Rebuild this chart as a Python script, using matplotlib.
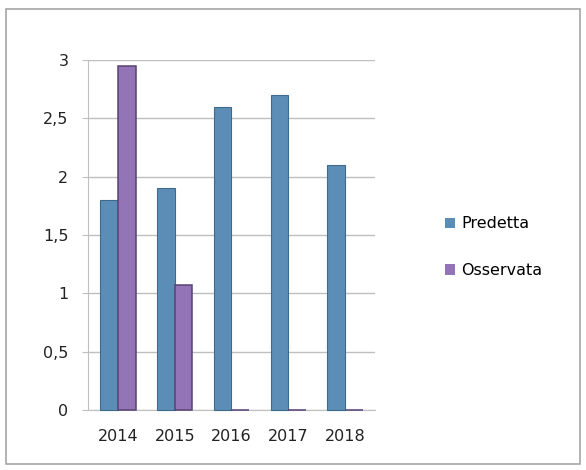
import numpy as np
import matplotlib.pyplot as plt
from matplotlib.patches import Rectangle

# dati
anni = ["2014", "2015", "2016", "2017", "2018"]
predetta = [1.8, 1.9, 2.6, 2.7, 2.1]
osservata = [2.95, 1.07, 0, 0, 0]
etichette_y = ["0", "0,5", "1", "1,5", "2", "2,5", "3"]

fig = plt.figure(figsize=(5.86, 4.70), dpi=100)
fig.patches.append(Rectangle((0.011, 0.012), 0.979, 0.968, transform=fig.transFigure,
                             fill=False, edgecolor="#a6a6a6", linewidth=1.2))

ax = fig.add_axes([0.150, 0.128, 0.490, 0.744])
x = np.arange(len(anni))
w = 0.31
ax.bar(x - w / 2, predetta, w, color="#5b8db6", edgecolor="#3f6a8c", linewidth=0.8,
       label="Predetta", zorder=3, clip_on=False)
ax.bar(x + w / 2, osservata, w, color="#9374b6", edgecolor="#574275", linewidth=1.1,
       label="Osservata", zorder=3, clip_on=False)

ax.set_xlim(-0.53, 4.53)
ax.set_ylim(0, 3)
ax.set_yticks(np.arange(0, 3.01, 0.5))
ax.set_yticklabels(etichette_y)
ax.set_xticks(x)
ax.set_xticklabels(anni)
ax.grid(axis="y", color="#bfbfbf", linewidth=1, zorder=0)
for s in ["top", "right"]:
    ax.spines[s].set_visible(False)
for s in ["left", "bottom"]:
    ax.spines[s].set_color("#bfbfbf")
ax.tick_params(axis="both", labelsize=11.5, colors="#bfbfbf", labelcolor="#222222",
               length=4)
ax.tick_params(axis="x", length=0, pad=14)
ax.tick_params(axis="y", pad=10)

leg = fig.legend(loc="center left", bbox_to_anchor=(0.735, 0.474), frameon=False,
                 fontsize=11.5, handlelength=0.6, handleheight=0.6, handletextpad=0.4,
                 labelspacing=2.0)
for h in leg.legend_handles:
    h.set_linewidth(0)

fig.savefig("out.png", dpi=100)
